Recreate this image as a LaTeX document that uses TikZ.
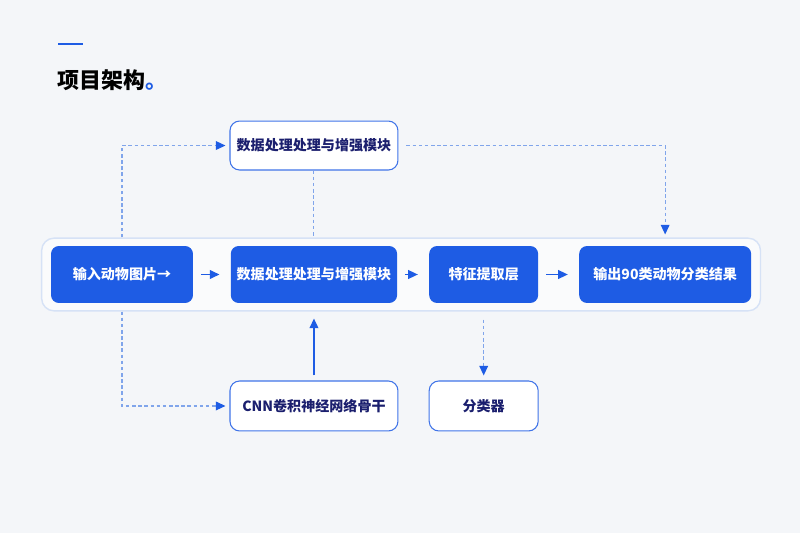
\documentclass[tikz,border=0pt]{standalone}
\usepackage{fontspec}
\setmainfont{Noto Sans CJK SC}
\usetikzlibrary{positioning,fit,arrows.meta,backgrounds}
\definecolor{mainblue}{RGB}{30,92,228}
\definecolor{navy}{RGB}{27,31,110}
\definecolor{pale}{RGB}{128,165,235}
\definecolor{bgray}{RGB}{244,246,249}
\definecolor{rowline}{RGB}{214,226,246}

\begin{document}
\begin{tikzpicture}[x=0.02cm,y=-0.02cm,node distance=2cm,on grid,
  blk/.style={rectangle,rounded corners=4.5pt,fill=mainblue,text=white,font=\bfseries\fontsize{8}{9}\selectfont,minimum height=1.14cm},
  mod/.style={rectangle,rounded corners=5.5pt,draw=mainblue!85,line width=0.6pt,fill=white,text=navy,font=\bfseries\fontsize{8}{9}\selectfont,minimum height=1cm},
  flow/.style={-{Triangle[length=5.5pt,width=5pt]},mainblue,line width=0.8pt},
  hint/.style={pale,dash pattern=on 2pt off 1.5pt,line width=0.6pt},
  tip/.style={-{Triangle[length=5.5pt,width=5pt,color=mainblue]}}]
  \node[blk,minimum width=2.84cm] (in) at (122,274.5) {输入动物图片→};
  \node[blk,minimum width=3.32cm,right=3.84cm of in] (aug) {数据处理处理与增强模块};
  \node[blk,minimum width=2.18cm,right=3.395cm of aug] (feat) {特征提取层};
  \node[blk,minimum width=3.44cm,right=3.63cm of feat] (out) {输出90类动物分类结果};
  \node[mod,minimum width=3.36cm,minimum height=0.98cm,above=2.58cm of aug] (pre) {数据处理处理与增强模块};
  \node[mod,minimum width=3.36cm,below=2.63cm of aug] (cnn) {CNN卷积神经网络骨干};
  \node[mod,minimum width=2.18cm,below=2.63cm of feat] (cls) {分类器};
  \begin{scope}[on background layer]
    \fill[bgray] (0,0) rectangle (800,533);
    \node[fit=(in)(out),inner xsep=0.18cm,inner ysep=0.15cm,rounded corners=7pt,draw=rowline,line width=0.8pt,fill=white!55!bgray] (row) {};
  \end{scope}
  \draw[mainblue,line width=1.7pt] (58,44) -- (83,44);
  \node[anchor=west,inner sep=0pt,font=\bfseries\fontsize{12.5}{14}\selectfont] (title) at (57,80) {项目架构{\color{mainblue}。}};
  \path[flow,shorten <=0.15cm,shorten >=0.22cm]
    (in) edge (aug)
    (aug) edge (feat)
    (feat) edge (out);
  \draw[hint,tip,shorten >=0.08cm] (in |- row.north) |- (pre.west);
  \draw[hint,tip,shorten >=0.08cm] (in |- row.south) |- (cnn.west);
  \draw[hint] (pre.south) -- (pre |- row.north);
  \draw[hint,tip,shorten <=0.16cm,shorten >=0.06cm] (pre.east) -| (out |- row.north);
  \draw[flow,shorten <=0.1cm,shorten >=0.14cm] (cnn.north) -- (aug |- row.south);
  \draw[hint,tip,shorten <=0.16cm,shorten >=0.1cm] (feat |- row.south) -- (cls.north);
\end{tikzpicture}
\end{document}
